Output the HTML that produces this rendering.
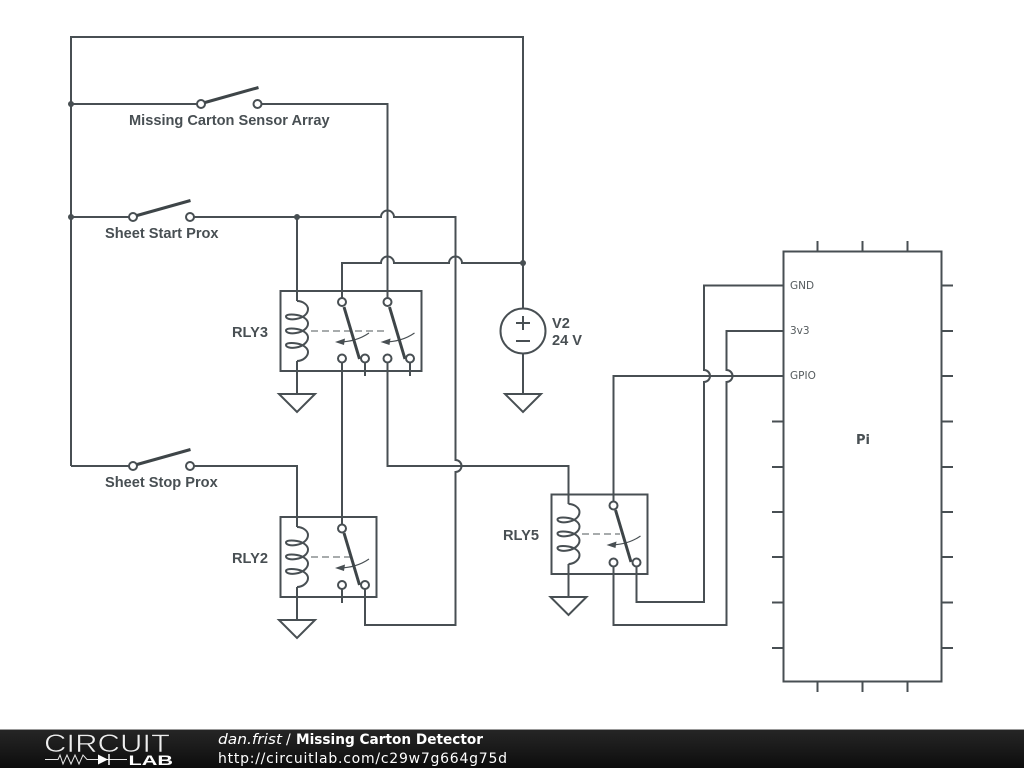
<!DOCTYPE html>
<html>
<head>
<meta charset="utf-8">
<style>
html,body{margin:0;padding:0;background:#fff;width:1024px;height:768px;overflow:hidden}
svg{display:block}
.w{fill:none;stroke:#484f53;stroke-width:2}
.c{fill:#fff;stroke:#484f53;stroke-width:2}
.lv{fill:none;stroke:#3e4548;stroke-width:3}
.th{fill:none;stroke:#484f53;stroke-width:1.100}
.l{font-family:"Liberation Sans",sans-serif;font-weight:bold;font-size:14.600px;fill:#484f53}
.p{font-family:"DejaVu Sans",sans-serif;font-size:10.500px;fill:#555b5e}
.f{font-family:"DejaVu Sans",sans-serif;font-size:14px;fill:#fff}
</style>
</head>
<body>
<svg width="1024" height="768" viewBox="0 0 1024 768" xmlns="http://www.w3.org/2000/svg">
<defs>
<g id="coil"><path class="w" d="M297,301 C303,301 308,305 308,309 C308,314 303,318 296,319 C290,320 286,318.500 286,316.500 C286,314.500 291,314 297,315 C303,316 308,319.500 308,323.500 C308,328 303,332 296,333 C290,334 286,332.500 286,330.500 C286,328.500 291,328 297,329 C303,330 308,333.500 308,337.500 C308,342 303,346.500 296,347.500 C290,348.500 286,347 286,345 C286,343 291,342.500 297,343.500 C303,344.500 308,348 308,352 C308,356.500 303,361 297,361"/></g>
<g id="arr"><path class="th" d="M369,333 C359,340 349,342 338,342"/><path d="M335,342 L345,338.500 L344,345 Z" fill="#484f53"/></g>
<path id="gnd" class="w" d="M279,394 H315 L297,412 Z"/>
</defs>

<!-- main wires -->
<path class="w" d="M71,466 V37 H523 V308"/>
<path class="w" d="M71,104 H197 M261,104 H387.500 V298"/>
<path class="w" d="M71,217 H129 M194,217 H381 A6.500,6.500 0 0 1 394,217 H455.500 V460 A6,6 0 0 1 455.500,472 V625 H365 V589"/>
<path class="w" d="M297,217 V301"/>
<path class="w" d="M342,298 V263 H381 A6.500,6.500 0 0 1 394,263 H449 A6.500,6.500 0 0 1 462,263 H523"/>
<path class="w" d="M71,466 H129 M194,466 H297 V527"/>
<path class="w" d="M342,362 V525"/>
<path class="w" d="M387.500,362 V466 H568.500 V504"/>
<circle cx="71" cy="104" r="3" fill="#484f53"/>
<circle cx="71" cy="217" r="3" fill="#484f53"/>
<circle cx="297" cy="217" r="3" fill="#484f53"/>
<circle cx="523" cy="263" r="3" fill="#484f53"/>

<!-- switches -->
<circle class="c" cx="201" cy="104" r="4"/><circle class="c" cx="257.500" cy="104" r="4"/>
<path class="lv" d="M205,102.500 L258.500,87.500"/>
<circle class="c" cx="133" cy="217" r="4"/><circle class="c" cx="190" cy="217" r="4"/>
<path class="lv" d="M137,215.500 L190.500,200.500"/>
<circle class="c" cx="133" cy="466" r="4"/><circle class="c" cx="190" cy="466" r="4"/>
<path class="lv" d="M137,464.500 L190.500,449.500"/>
<text class="l" x="129" y="125">Missing Carton Sensor Array</text>
<text class="l" x="105" y="238">Sheet Start Prox</text>
<text class="l" x="105" y="487">Sheet Stop Prox</text>

<!-- RLY3 -->
<rect class="w" x="280.500" y="291" width="141" height="80"/>
<use href="#coil"/>
<path class="w" d="M297,361 V394"/>
<use href="#gnd"/>
<path d="M311,331 H388" fill="none" stroke="#8a8f91" stroke-width="1.500" stroke-dasharray="7,4"/>
<use href="#arr"/><use href="#arr" x="45.500"/>
<path class="lv" d="M344,307 L359.500,359 M389.500,307 L405,359"/>
<path class="w" d="M365,362 V376 M410,362 V376"/>
<circle class="c" cx="342" cy="302" r="4"/><circle class="c" cx="387.500" cy="302" r="4"/>
<circle class="c" cx="342" cy="358.500" r="4"/><circle class="c" cx="365" cy="358.500" r="4"/>
<circle class="c" cx="387.500" cy="358.500" r="4"/><circle class="c" cx="410" cy="358.500" r="4"/>
<text class="l" x="232" y="337">RLY3</text>

<!-- RLY2 -->
<rect class="w" x="280.500" y="517" width="96" height="80"/>
<use href="#coil" y="226"/>
<path class="w" d="M297,587 V620"/>
<use href="#gnd" y="226"/>
<path d="M311,557 H350" fill="none" stroke="#8a8f91" stroke-width="1.500" stroke-dasharray="7,4"/>
<use href="#arr" y="226"/>
<path class="lv" d="M344,533 L359.500,585"/>
<path class="w" d="M342,589 V603"/>
<circle class="c" cx="342" cy="528.500" r="4"/><circle class="c" cx="342" cy="585" r="4"/><circle class="c" cx="365" cy="585" r="4"/>
<text class="l" x="232" y="563">RLY2</text>

<!-- V2 -->
<circle class="c" cx="523" cy="331" r="22.500"/>
<path class="w" d="M523,354 V394 M516,323 H530 M523,316 V330 M516,341 H530"/>
<use href="#gnd" x="226"/>
<text class="l" x="552" y="328">V2</text>
<text class="l" x="552" y="345">24 V</text>

<!-- RLY5 -->
<rect class="w" x="551.500" y="494.500" width="96" height="79.500"/>
<use href="#coil" x="271.500" y="203"/>
<path class="w" d="M568.500,564 V597"/>
<use href="#gnd" x="271.500" y="203"/>
<path d="M582,534 H620" fill="none" stroke="#8a8f91" stroke-width="1.500" stroke-dasharray="7,4"/>
<use href="#arr" x="271.500" y="203"/>
<path class="lv" d="M615.500,510 L631,562"/>
<path class="w" d="M613.500,502 V376 H783"/>
<path class="w" d="M636.500,566 V602 H704 V382 A6,6 0 0 0 704,370 V285.500 H783"/>
<path class="w" d="M613.500,566 V625 H726.500 V382 A6,6 0 0 0 726.500,370 V331 H783"/>
<circle class="c" cx="613.500" cy="505.500" r="4"/><circle class="c" cx="613.500" cy="562.500" r="4"/><circle class="c" cx="636.500" cy="562.500" r="4"/>
<text class="l" x="503" y="540">RLY5</text>

<!-- Pi -->
<rect class="w" x="783.500" y="251.500" width="158" height="430"/>
<path class="w" d="M817.500,241 V251 M862.500,241 V251 M907.500,241 V251 M817.500,682 V692 M862.500,682 V692 M907.500,682 V692"/>
<path class="w" d="M772,421.500 H783 M772,467 H783 M772,512 H783 M772,557 H783 M772,602.500 H783 M772,648 H783"/>
<path class="w" d="M942,285.500 H953 M942,331 H953 M942,376 H953 M942,421.500 H953 M942,467 H953 M942,512 H953 M942,557 H953 M942,602.500 H953 M942,648 H953"/>
<text class="p" x="790" y="289">GND</text>
<text class="p" x="790" y="334">3v3</text>
<text class="p" x="790" y="379">GPIO</text>
<text x="856" y="444" font-family="'DejaVu Sans',sans-serif" font-weight="bold" font-size="13" fill="#484f53">Pi</text>

<!-- footer -->
<defs><linearGradient id="fg" x1="0" y1="0" x2="0" y2="1"><stop offset="0" stop-color="#262626"/><stop offset="0.500" stop-color="#1a1a1a"/><stop offset="1" stop-color="#0c0c0c"/></linearGradient></defs>
<rect x="0" y="729" width="1024" height="39" fill="url(#fg)"/>
<rect x="0" y="729" width="1024" height="1" fill="#999"/>
<text x="44" y="752" font-family="'Liberation Sans',sans-serif" font-size="25" fill="#eee" stroke="#1a1a1a" stroke-width="0.600" paint-order="fill" textLength="126" lengthAdjust="spacingAndGlyphs">CIRCUIT</text>
<path d="M45,759.500 H58 L60,755 L63,764 L67,755 L71,764 L75,755 L79,764 L83,755 L87,759.500 H127" fill="none" stroke="#e8e8e8" stroke-width="1"/>
<path d="M98,754.500 L108,759.500 L98,764.500 Z" fill="#fff"/>
<path d="M109,754 V765" stroke="#fff" stroke-width="1.500"/>
<text x="128.500" y="765" font-family="'Liberation Sans',sans-serif" font-weight="bold" font-size="14" fill="#fff" textLength="44.500" lengthAdjust="spacingAndGlyphs">LAB</text>
<text class="f" x="218" y="744" font-style="italic" textLength="64" lengthAdjust="spacingAndGlyphs">dan.frist</text>
<text class="f" x="286" y="744">/</text>
<text class="f" x="296" y="744" font-weight="bold" textLength="187" lengthAdjust="spacingAndGlyphs">Missing Carton Detector</text>
<text class="f" x="218" y="763" textLength="289">http://circuitlab.com/c29w7g664g75d</text>
</svg>
</body>
</html>
